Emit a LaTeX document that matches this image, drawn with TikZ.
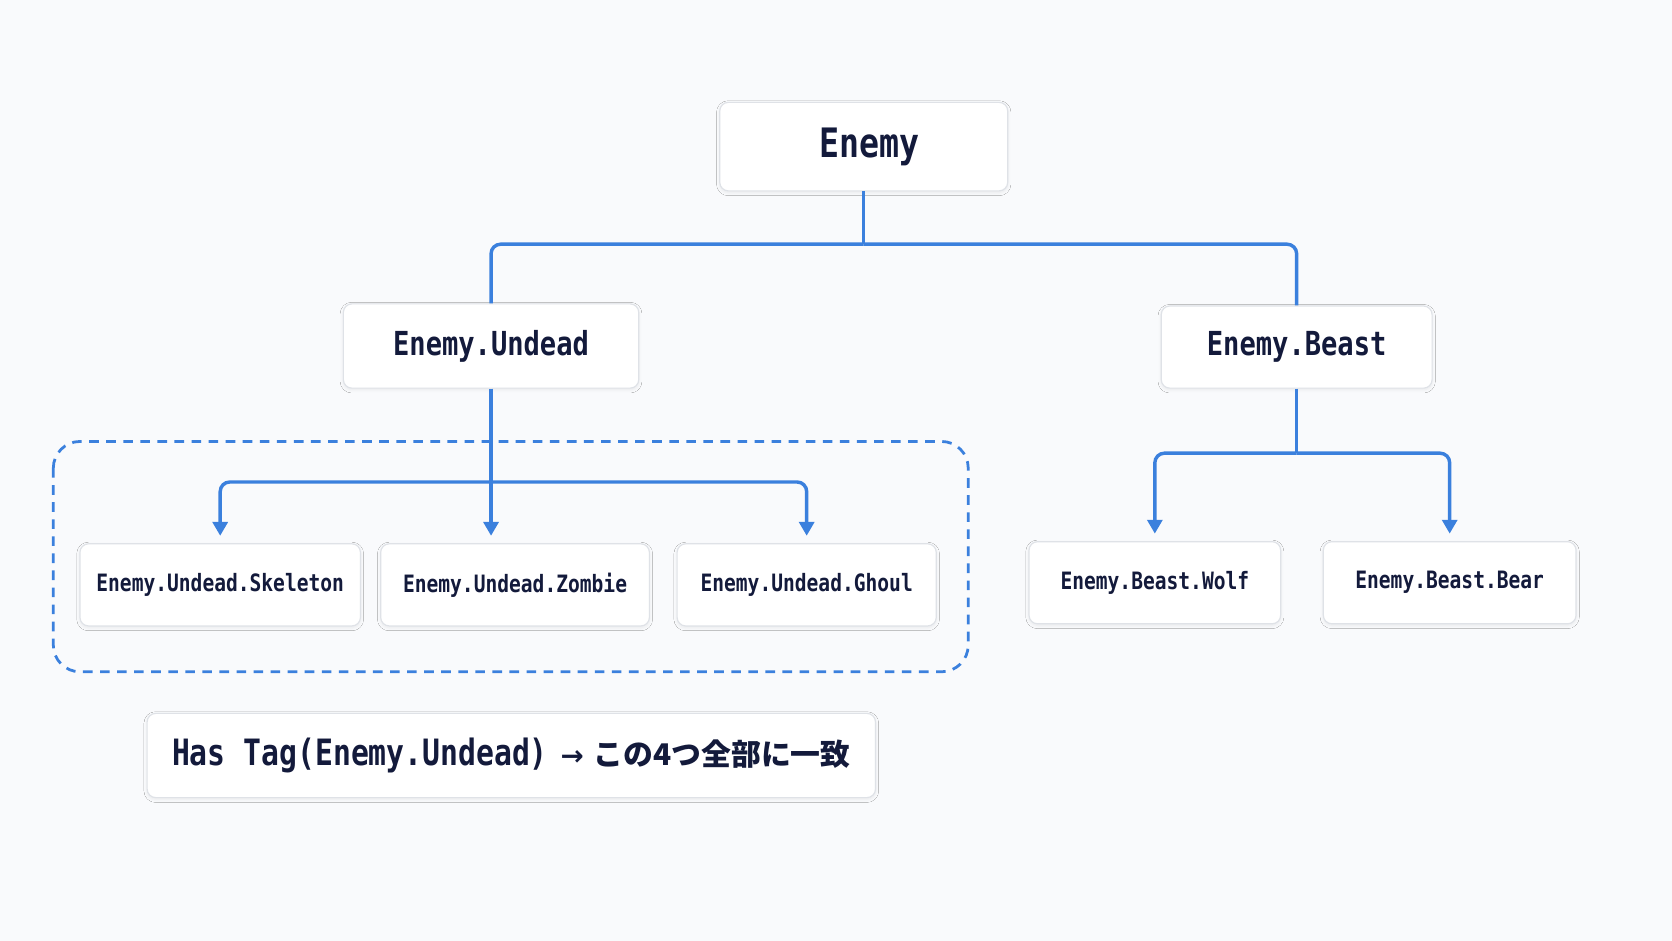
\documentclass[tikz,border=0pt]{standalone}
\usepackage{fontspec}
\usetikzlibrary{arrows.meta,shadows.blur}
\newfontfamily\mono[FakeStretch=0.82]{DejaVu Sans Mono}
\newfontfamily\arrfont{DejaVu Sans}
\newfontfamily\cjk{Noto Sans CJK JP}
\definecolor{bg}{HTML}{F9FAFC}
\definecolor{ln}{HTML}{3B80DD}
\definecolor{tx}{HTML}{131A3B}
\definecolor{bd}{HTML}{DFE2E7}
\begin{document}
\begin{tikzpicture}[x=1pt,y=-1pt,
  box/.style={draw=bd, line width=1.1pt, fill=white, rounded corners=8pt, inner sep=0pt,
    align=center, text=tx, font=\mono\bfseries,
    blur shadow={shadow xshift=0pt, shadow yshift=-1.5pt, shadow blur radius=3pt, shadow opacity=7}},
  conn/.style={draw=ln, line width=3.2pt, rounded corners=9pt},
  arr/.style={conn, -{Triangle[width=14pt,length=13pt]}, shorten >=7pt},
  fsA/.style={font=\mono\bfseries\fontsize{38}{40}\selectfont},
  fsB/.style={font=\mono\bfseries\fontsize{31}{33}\selectfont},
  fsC/.style={font=\mono\bfseries\fontsize{22.4}{24}\selectfont},
]
\fill[bg] (0,0) rectangle (1568,882);
\useasboundingbox (0,0) rectangle (1568,882);

% group frame
\draw[ln, line width=2.6pt, dash pattern=on 9pt off 7pt, rounded corners=25pt] (50,414) rectangle (908,630);

% nodes
\node[box, fsA, minimum width=270pt, minimum height=83pt] (enemy) at (810,137.5) {\hspace{10pt}Enemy};
\node[box, fsB, minimum width=277pt, minimum height=79pt] (undead) at (460.5,324.5) {Enemy.Undead};
\node[box, fsB, minimum width=254pt, minimum height=77pt] (beast) at (1216,325.5) {Enemy.Beast};
\node[box, fsC, minimum width=263pt, minimum height=77pt] (skel) at (206.5,548.5) {Enemy.Undead.Skeleton};
\node[box, fsC, minimum width=252pt, minimum height=77pt] (zombie) at (483,548.5) {Enemy.Undead.Zombie};
\node[box, fsC, minimum width=243pt, minimum height=77pt] (ghoul) at (756.5,548.5) {Enemy.Undead.Ghoul};
\node[box, fsC, minimum width=236pt, minimum height=77pt] (wolf) at (1083,546.5) {Enemy.Beast.Wolf};
\node[box, fsC, minimum width=237pt, minimum height=77pt] (bear) at (1359.5,546.5) {Enemy.Beast.Bear};
\node[box, minimum width=683pt, minimum height=79pt] (has) at (479.5,708.5)
  {\fontsize{34}{36}\selectfont Has Tag(Enemy.Undead)\hspace{12pt}{\arrfont\bfseries\fontsize{26}{30}\selectfont →}\hspace{9pt}{\cjk\bfseries\fontsize{28}{32}\selectfont この4つ全部に一致}};

% connectors
\coordinate (j1) at (enemy.south |- 0,229);
\draw[conn] (enemy.south) -- (j1);
\draw[conn] (j1) -| (undead.north);
\draw[conn] (j1) -| (beast.north);

\coordinate (j2) at (undead.south |- 0,452);
\draw[arr] (undead.south) -- (undead.south |- zombie.north);
\draw[arr] (j2) -| (skel.north);
\draw[arr] (j2) -| (ghoul.north);

\coordinate (j3) at (beast.south |- 0,425);
\draw[conn] (beast.south) -- (j3);
\draw[arr] (j3) -| (wolf.north);
\draw[arr] (j3) -| (bear.north);
\end{tikzpicture}
\end{document}
